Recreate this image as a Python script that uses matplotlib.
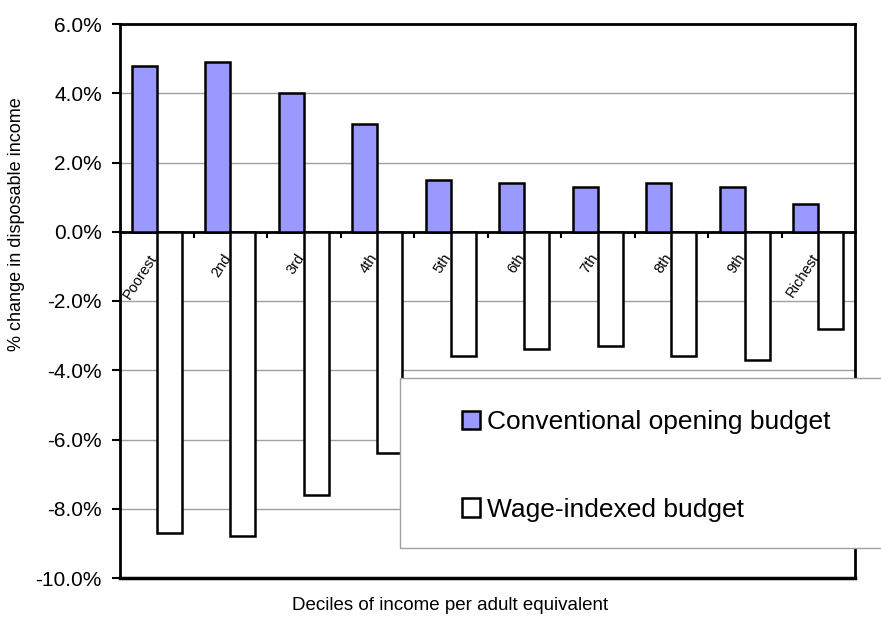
import matplotlib.pyplot as plt
import numpy as np
from matplotlib.patches import Rectangle
from matplotlib.ticker import FuncFormatter, FixedLocator

plt.rcParams["font.family"] = ["Liberation Sans", "DejaVu Sans"]

deciles = ["Poorest", "2nd", "3rd", "4th", "5th", "6th", "7th", "8th", "9th", "Richest"]
conventional = [4.8, 4.9, 4.0, 3.1, 1.5, 1.4, 1.3, 1.4, 1.3, 0.8]
wage_indexed = [-8.7, -8.8, -7.6, -6.4, -3.6, -3.4, -3.3, -3.6, -3.7, -2.8]

W, H = 881, 627
fig = plt.figure(figsize=(W / 100, H / 100), dpi=100)
ax = fig.add_axes([120 / W, 1 - 578 / H, 735 / W, 554 / H])

x = np.arange(len(deciles))
w = 0.34
ax.bar(x - w / 2, conventional, w, color="#9999ff", edgecolor="black", lw=1.8,
       label="Conventional opening budget", zorder=3)
ax.bar(x + w / 2, wage_indexed, w, color="white", edgecolor="black", lw=1.8,
       label="Wage-indexed budget", zorder=3)

ax.set_xlim(-0.5, len(deciles) - 0.5)
ax.set_ylim(-10, 6)
ax.set_yticks(np.arange(-10, 6.1, 2))
ax.yaxis.set_major_formatter(FuncFormatter(lambda v, _: f"{v:.1f}%"))
ax.yaxis.grid(True, color="#a0a0a0", lw=1, zorder=0)
ax.tick_params(axis="y", labelsize=15, length=6, width=1.5, direction="out", pad=7)

# x axis sits at zero, ticks on the category boundaries
ax.spines["bottom"].set_position(("data", 0))
ax.xaxis.set_major_locator(FixedLocator(np.arange(0.5, len(deciles) - 0.5, 1)))
ax.set_xticklabels([])
ax.tick_params(axis="x", length=4, width=1.5, direction="out")
for i, lab in enumerate(deciles):
    ax.annotate(lab, (i, 0), xytext=(-6, -14), textcoords="offset points",
                rotation=57, ha="right", va="top", rotation_mode="anchor",
                fontsize=10.5, zorder=4)
for s in ax.spines.values():
    s.set_linewidth(2)
ax.axhline(-10, color="black", lw=2.5, zorder=5, clip_on=False)

fig.text(17 / W, 1 - 224 / H, "% change in disposable income", rotation=90,
         ha="center", va="center", fontsize=13)
fig.text(450 / W, 1 - 606 / H, "Deciles of income per adult equivalent",
         ha="center", va="center", fontsize=13.5)

# legend box (frame drawn separately so it can run off the right edge)
box = Rectangle((400 / W, 1 - 548 / H), 500 / W, 170 / H, transform=fig.transFigure,
                facecolor="white", edgecolor="#a0a0a0", lw=1, zorder=5)
fig.patches.append(box)
leg = fig.legend(loc="center left", bbox_to_anchor=(462 / W, 1 - 466 / H),
                 fontsize=19, frameon=False, labelspacing=2.4,
                 handlelength=0.7, handleheight=0.7, handletextpad=0.25,
                 borderpad=0, borderaxespad=0)
leg.set_zorder(6)

fig.savefig("out.png", dpi=100)
